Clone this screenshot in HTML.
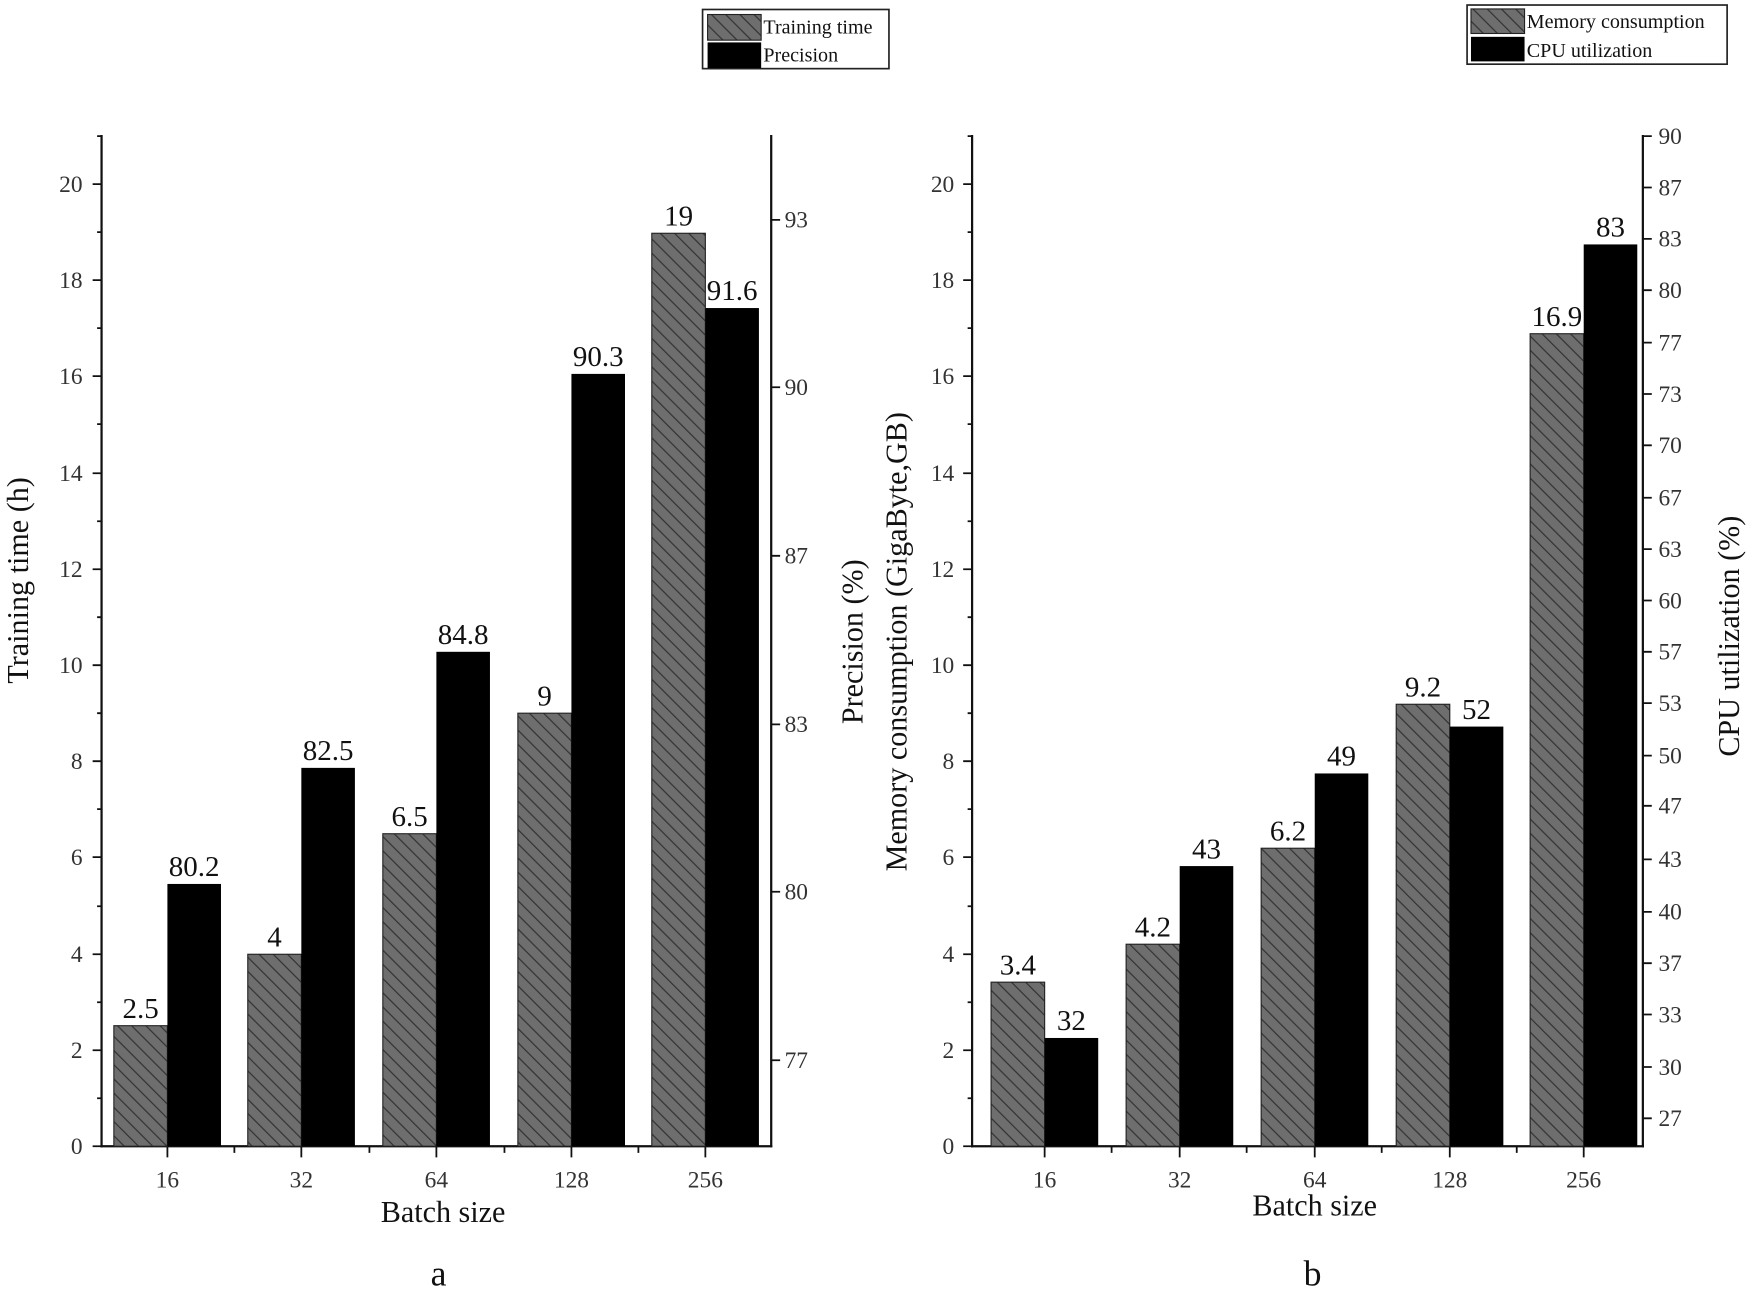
<!DOCTYPE html>
<html><head><meta charset="utf-8"><style>html,body{margin:0;padding:0;background:#fff}svg{display:block}</style></head>
<body>
<svg width="1750" height="1294" viewBox="0 0 1568 1159.4" preserveAspectRatio="none" xmlns="http://www.w3.org/2000/svg" font-family="'Liberation Serif',serif">
<defs>
<pattern id="h" patternUnits="userSpaceOnUse" width="9" height="9" patternTransform="rotate(-45)">
<rect width="9" height="9" fill="#6e6e6e"/><line x1="0" y1="0" x2="0" y2="9" stroke="#333" stroke-width="2.2"/>
</pattern>
</defs>
<g stroke="#111" stroke-width="2" fill="none">
<line x1="91" y1="121" x2="91" y2="1028"/>
<line x1="691" y1="121" x2="691" y2="1028"/>
<line x1="90" y1="1027" x2="692" y2="1027"/>
<line x1="871" y1="121" x2="871" y2="1028"/>
<line x1="1472" y1="121" x2="1472" y2="1028"/>
<line x1="870" y1="1027" x2="1473" y2="1027"/>
</g>
<g stroke="#111" stroke-width="1.6">
<path d="M83 1027H91M83 941H91M83 855H91M83 768H91M83 682H91M83 596H91M83 510H91M83 424H91M83 337H91M83 251H91M83 165H91
M87 984H91M87 898H91M87 812H91M87 725H91M87 639H91M87 553H91M87 467H91M87 380H91M87 294H91M87 208H91M87 122H91"/>
<path d="M863 1027H871M863 941H871M863 855H871M863 768H871M863 682H871M863 596H871M863 510H871M863 424H871M863 337H871M863 251H871M863 165H871
M867 984H871M867 898H871M867 812H871M867 725H871M867 639H871M867 553H871M867 467H871M867 380H871M867 294H871M867 208H871M867 122H871"/>
<path d="M691 950H699M691 799H699M691 649H699M691 498H699M691 347H699M691 197H699"/>
<path d="M1472 122H1480M1472 168H1480M1472 214H1480M1472 260H1480M1472 307H1480M1472 353H1480M1472 399H1480M1472 446H1480M1472 492H1480M1472 538H1480M1472 584H1480M1472 630H1480M1472 677H1480M1472 722H1480M1472 770H1480M1472 817H1480M1472 863H1480M1472 909H1480M1472 956H1480M1472 1002H1480"/>
<path d="M150 1027V1037M270 1027V1037M391 1027V1037M512 1027V1037M632 1027V1037M210 1027V1033M331 1027V1033M452 1027V1033M572 1027V1033"/>
<path d="M936 1027V1037M1057 1027V1037M1178 1027V1037M1299 1027V1037M1419 1027V1037M996 1027V1033M1117 1027V1033M1238 1027V1033M1359 1027V1033"/>
</g>
<g stroke="#222" stroke-width="1">
<rect x="102" y="919" width="48" height="108" fill="url(#h)"/>
<rect x="222" y="855" width="48" height="172" fill="url(#h)"/>
<rect x="343" y="747" width="48" height="280" fill="url(#h)"/>
<rect x="464" y="639" width="48" height="388" fill="url(#h)"/>
<rect x="584" y="209" width="48" height="818" fill="url(#h)"/>
<rect x="888" y="880" width="48" height="147" fill="url(#h)"/>
<rect x="1009" y="846" width="48" height="181" fill="url(#h)"/>
<rect x="1130" y="760" width="48" height="267" fill="url(#h)"/>
<rect x="1251" y="631" width="48" height="396" fill="url(#h)"/>
<rect x="1371" y="299" width="48" height="728" fill="url(#h)"/>
</g>
<g fill="#000">
<rect x="150" y="792" width="48" height="235"/>
<rect x="270" y="688" width="48" height="339"/>
<rect x="391" y="584" width="48" height="443"/>
<rect x="512" y="335" width="48" height="692"/>
<rect x="632" y="276" width="48" height="751"/>
<rect x="936" y="930" width="48" height="97"/>
<rect x="1057" y="776" width="48" height="251"/>
<rect x="1178" y="693" width="48" height="334"/>
<rect x="1299" y="651" width="48" height="376"/>
<rect x="1419" y="219" width="48" height="808"/>
</g>
<g font-size="26" fill="#111" text-anchor="middle">
<text x="126" y="912">2.5</text><text x="174" y="785">80.2</text>
<text x="246" y="848">4</text><text x="294" y="681">82.5</text>
<text x="367" y="740">6.5</text><text x="415" y="577">84.8</text>
<text x="488" y="632">9</text><text x="536" y="328">90.3</text>
<text x="608" y="202">19</text><text x="656" y="269">91.6</text>
<text x="912" y="873">3.4</text><text x="960" y="923">32</text>
<text x="1033" y="839">4.2</text><text x="1081" y="769">43</text>
<text x="1154" y="753">6.2</text><text x="1202" y="686">49</text>
<text x="1275" y="624">9.2</text><text x="1323" y="644">52</text>
<text x="1395" y="292">16.9</text><text x="1443" y="212">83</text>
</g>
<g font-size="21" fill="#333" text-anchor="end">
<text x="74" y="1034">0</text><text x="74" y="948">2</text><text x="74" y="862">4</text><text x="74" y="775">6</text><text x="74" y="689">8</text><text x="74" y="603">10</text><text x="74" y="517">12</text><text x="74" y="431">14</text><text x="74" y="344">16</text><text x="74" y="258">18</text><text x="74" y="172">20</text>
<text x="855" y="1034">0</text><text x="855" y="948">2</text><text x="855" y="862">4</text><text x="855" y="775">6</text><text x="855" y="689">8</text><text x="855" y="603">10</text><text x="855" y="517">12</text><text x="855" y="431">14</text><text x="855" y="344">16</text><text x="855" y="258">18</text><text x="855" y="172">20</text>
</g>
<g font-size="21" fill="#333">
<text x="703" y="957">77</text><text x="703" y="806">80</text><text x="703" y="656">83</text><text x="703" y="505">87</text><text x="703" y="354">90</text><text x="703" y="204">93</text>
<text x="1486" y="129">90</text><text x="1486" y="175">87</text><text x="1486" y="221">83</text><text x="1486" y="267">80</text><text x="1486" y="314">77</text><text x="1486" y="360">73</text><text x="1486" y="406">70</text><text x="1486" y="453">67</text><text x="1486" y="499">63</text><text x="1486" y="545">60</text><text x="1486" y="591">57</text><text x="1486" y="637">53</text><text x="1486" y="684">50</text><text x="1486" y="729">47</text><text x="1486" y="777">43</text><text x="1486" y="824">40</text><text x="1486" y="870">37</text><text x="1486" y="916">33</text><text x="1486" y="963">30</text><text x="1486" y="1009">27</text>
</g>
<g font-size="21" fill="#333" text-anchor="middle">
<text x="150" y="1064">16</text><text x="270" y="1064">32</text><text x="391" y="1064">64</text><text x="512" y="1064">128</text><text x="632" y="1064">256</text>
<text x="936" y="1064">16</text><text x="1057" y="1064">32</text><text x="1178" y="1064">64</text><text x="1299" y="1064">128</text><text x="1419" y="1064">256</text>
</g>
<g font-size="27" fill="#111" text-anchor="middle">
<text x="397" y="1095">Batch size</text>
<text x="1178" y="1089">Batch size</text>
<text transform="translate(25,520) rotate(-90)">Training time (h)</text>
<text transform="translate(773,575) rotate(-90)">Precision (%)</text>
<text transform="translate(812,575) rotate(-90)">Memory consumption (GigaByte,GB)</text>
<text transform="translate(1558,570) rotate(-90)">CPU utilization (%)</text>
<text x="393" y="1152" font-size="32">a</text>
<text x="1176" y="1152" font-size="32">b</text>
</g>
<g>
<rect x="629.5" y="8.5" width="167" height="53" fill="#fff" stroke="#222" stroke-width="1.5"/>
<rect x="634" y="13" width="48" height="23" fill="url(#h)" stroke="#222"/>
<rect x="634" y="38" width="48" height="23" fill="#000"/>
<text x="684" y="30" font-size="18" fill="#111">Training time</text>
<text x="684" y="55" font-size="18" fill="#111">Precision</text>
<rect x="1314.5" y="4.5" width="233" height="53" fill="#fff" stroke="#222" stroke-width="1.5"/>
<rect x="1318" y="8" width="48" height="22" fill="url(#h)" stroke="#222"/>
<rect x="1318" y="33" width="48" height="22" fill="#000"/>
<text x="1368" y="25" font-size="18" fill="#111">Memory consumption</text>
<text x="1368" y="51" font-size="18" fill="#111">CPU utilization</text>
</g>
</svg>
</body></html>
